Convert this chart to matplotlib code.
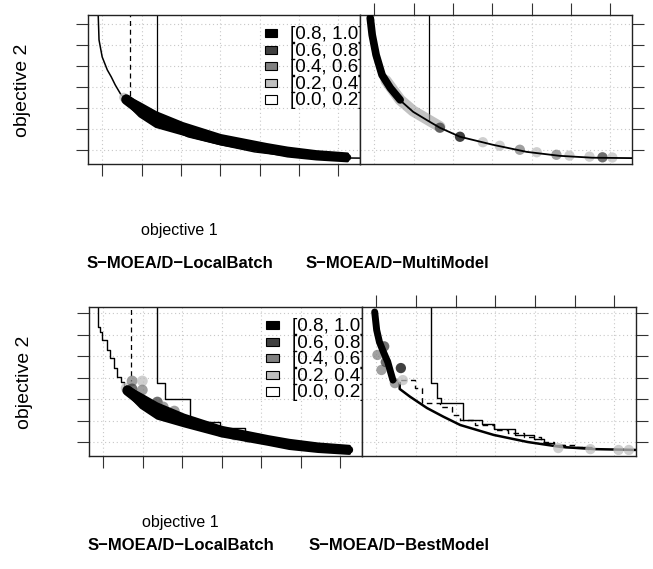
import matplotlib
matplotlib.use("Agg")
import matplotlib.pyplot as plt
from matplotlib.patches import Rectangle

plt.rcParams['font.family'] = ['Liberation Sans', 'DejaVu Sans']

W, H = 653, 569

# colour key
bin_labels = ['[0.8, 1.0]', '[0.6, 0.8]', '[0.4, 0.6]', '[0.2, 0.4]', '[0.0, 0.2]']
bin_colors = ['black', '#404040', '#808080', '#bfbfbf', 'white']

# unlabelled ticks
x_ticks = [0, 1, 2, 3, 4, 5, 6]
y_ticks = [0, 1, 2, 3, 4, 5, 6]

# reference front (thin line, top row)
front_x = [-0.11, -0.10, -0.08, 0.00, 0.13, 0.23, 0.33, 0.48, 0.66, 0.99, 1.37, 1.67, 2.18, 3.01, 3.87, 4.71, 5.54, 6.60]
front_y = [6.60, 6.40, 5.24, 4.43, 3.81, 3.48, 3.10, 2.62, 2.36, 1.81, 1.38, 1.05, 0.62, 0.24, -0.10, -0.29, -0.38, -0.40]

# dense cloud of S-MOEA/D-LocalBatch: upper and lower edge
lb_upper_x = [0.60, 0.96, 1.37, 2.05, 3.01, 4.18, 4.71, 5.44, 6.23]
lb_upper_y = [2.55, 2.19, 1.76, 1.24, 0.67, 0.24, 0.07, -0.10, -0.21]
lb_lower_x = [0.63, 0.96, 1.37, 2.05, 3.01, 4.18, 4.71, 5.44, 6.23]
lb_lower_y = [2.24, 1.62, 1.12, 0.76, 0.29, -0.10, -0.29, -0.43, -0.52]

# reference lines: dashed and solid verticals (x, lower end)
tl_dash = (0.70, 2.40)
tl_solid = (1.39, 1.60)
tr_solid = (1.39, 1.40)
bl_dash = (0.70, 2.85)

# S-MOEA/D-MultiModel
mm_band_x = [-0.10, -0.05, 0.05, 0.20, 0.41, 0.66]
mm_band_y = [6.29, 5.48, 4.52, 3.57, 2.95, 2.38]
mm_halo_x = [0.30, 0.66, 0.99, 1.37, 1.67]
mm_halo_y = [3.30, 2.38, 1.85, 1.43, 1.10]
mm_pts_x = [1.67, 2.18, 2.76, 3.19, 3.70, 4.13, 4.63, 4.96, 5.47, 5.80, 6.05]
mm_pts_y = [1.05, 0.62, 0.36, 0.19, 0.00, -0.12, -0.24, -0.28, -0.33, -0.36, -0.37]
mm_pts_c = ['#404040', 'black', '#bfbfbf', '#bfbfbf', '#808080', '#bfbfbf', '#808080', '#bfbfbf',
            '#bfbfbf', '#404040', '#bfbfbf']

# bottom-left staircases
bl_best_x = [-0.14, -0.14, -0.08, -0.03, 0.09, 0.17, 0.27, 0.35, 0.45, 0.53, 0.58]
bl_best_y = [6.60, 5.35, 5.12, 4.74, 4.28, 3.91, 3.44, 3.02, 2.79, 2.51, 2.42]
bl_worst_x = [1.37, 1.37, 1.57, 2.19, 2.95, 3.59, 3.95, 4.36, 4.87, 5.51, 6.27]
bl_worst_y = [6.60, 2.74, 2.00, 0.93, 0.65, 0.37, 0.19, 0.05, -0.09, -0.23, -0.42]
bl_pts_x = [0.58, 0.73, 0.99, 0.73, 0.99, 1.37, 1.52, 1.80, 2.31, 2.64, 3.00, 3.33, 3.66]
bl_pts_y = [2.51, 2.84, 2.84, 2.47, 2.42, 1.86, 1.63, 1.44, 0.88, 0.70, 0.47, 0.33, 0.23]
bl_pts_c = ['#bfbfbf', '#808080', '#bfbfbf', '#404040', '#808080', '#404040', '#808080',
            '#808080', '#404040', '#808080', '#404040', '#808080', '#404040']

# S-MOEA/D-BestModel
bm_best_x = [0.59, 0.59, 0.85, 1.28, 1.69, 2.12, 2.54, 2.96, 3.82, 4.66, 5.50, 6.60]
bm_best_y = [2.74, 2.47, 2.11, 1.58, 1.18, 0.79, 0.56, 0.33, 0.00, -0.23, -0.33, -0.37]
bm_med_x = [0.38, 0.97, 1.15, 1.61, 1.91, 2.12, 2.50, 2.97, 3.31, 3.73, 4.16, 4.49, 5.00, 5.51]
bm_med_y = [2.88, 2.50, 1.80, 1.61, 1.26, 1.02, 0.79, 0.56, 0.40, 0.25, 0.01, -0.14, -0.25, -0.34]
bm_worst_x = [1.38, 1.38, 1.54, 1.63, 2.19, 2.67, 2.98, 3.49, 3.97, 4.22, 4.49, 4.77, 5.34]
bm_worst_y = [6.60, 2.76, 2.03, 1.80, 1.02, 0.84, 0.60, 0.33, 0.13, -0.03, -0.15, -0.24, -0.33]
bm_band_x = [-0.04, 0.01, 0.08, 0.18, 0.29, 0.36, 0.42]
bm_band_y = [6.05, 5.21, 4.65, 4.19, 3.72, 3.26, 2.88]
bm_pts_x = [0.62, 0.13, 0.47, 0.67, 0.03, 0.24, 0.20, 4.59, 5.40, 6.11, 6.37]
bm_pts_y = [3.44, 3.35, 2.74, 2.88, 4.05, 3.72, 4.45, -0.28, -0.33, -0.37, -0.37]
bm_pts_c = ['black', '#808080', '#808080', '#bfbfbf', '#808080', '#404040', '#404040', '#bfbfbf',
            '#bfbfbf', '#bfbfbf', '#bfbfbf']

xlim = (-0.36, 6.55)
top_ylim = (-0.68, 6.43)
bot_ylim = (-0.65, 6.28)

fig = plt.figure(figsize=(W / 100, H / 100), dpi=100)


def make_axes(x0, y0, x1, y1, ylim, side):
    ax = fig.add_axes([x0 / W, 1 - y1 / H, (x1 - x0) / W, (y1 - y0) / H])
    ax.set_xlim(xlim)
    ax.set_ylim(ylim)
    ax.set_xticks(x_ticks)
    ax.set_yticks(y_ticks)
    ax.set_xticklabels([])
    ax.set_yticklabels([])
    ax.grid(True, color='#c8c8c8', linestyle=(0, (1, 2.5)), linewidth=0.8)
    ax.set_axisbelow(True)
    for s in ax.spines.values():
        s.set_linewidth(1.0)
        s.set_color('#222222')
    ax.tick_params(direction='out', length=8.8, width=0.8, color='#333333')
    if side == 'left':
        ax.tick_params(left=True, bottom=True, right=False, top=False)
    else:
        ax.tick_params(left=False, bottom=False, right=True, top=True)
    return ax


def add_key(ax):
    for i, (lab, col) in enumerate(zip(bin_labels, bin_colors)):
        yc = 0.877 - i * 0.111
        ax.add_patch(Rectangle((0.650, yc - 0.027), 0.046, 0.054, transform=ax.transAxes,
                               facecolor=col, edgecolor='black', linewidth=0.8, zorder=5))
        ax.text(0.742, yc - 0.008, lab, transform=ax.transAxes, fontsize=13.6,
                ha='left', va='center', zorder=5)


def band(ax, xs, ys, lw, color='black', alpha=1.0):
    ax.plot(xs, ys, color=color, linewidth=lw, solid_capstyle='round',
            solid_joinstyle='round', alpha=alpha, zorder=3)


def cloud(ax):
    xs = lb_upper_x + lb_lower_x[::-1]
    ys = lb_upper_y + lb_lower_y[::-1]
    ax.fill(xs, ys, facecolor='black', edgecolor='black', linewidth=2.5,
            joinstyle='round', zorder=3)
    # round off both ends of the cloud
    mid_x = [(a + b) / 2 for a, b in zip(lb_upper_x, lb_lower_x)]
    mid_y = [(a + b) / 2 for a, b in zip(lb_upper_y, lb_lower_y)]
    band(ax, mid_x[:2], mid_y[:2], 7.5)
    band(ax, mid_x[-2:], mid_y[-2:], 5.5)


def vline(ax, ref, top, ls):
    ax.plot([ref[0], ref[0]], [top, ref[1]], color='black', linewidth=0.9, linestyle=ls, zorder=2)


# top left: S-MOEA/D-LocalBatch
ax1 = make_axes(88, 15, 360, 164, top_ylim, 'left')
ax1.plot(front_x, front_y, color='black', linewidth=1.1, zorder=2)
vline(ax1, tl_dash, 7, (0, (4, 3)))
vline(ax1, tl_solid, 7, '-')
ax1.scatter([0.55], [2.50], s=45, color='#bfbfbf', alpha=0.8, edgecolors='none', zorder=2)
cloud(ax1)
add_key(ax1)

# top right: S-MOEA/D-MultiModel
ax2 = make_axes(360, 15, 632, 164, top_ylim, 'right')
vline(ax2, tr_solid, 7, '-')
band(ax2, mm_halo_x, mm_halo_y, 8, color='#9a9a9a', alpha=0.6)
ax2.scatter(mm_pts_x, mm_pts_y, s=55, c=mm_pts_c, alpha=0.75, edgecolors='none', zorder=3)
band(ax2, mm_band_x, mm_band_y, 5.5)
ax2.plot(front_x, front_y, color='black', linewidth=1.3, zorder=4)

# bottom left: S-MOEA/D-LocalBatch with attainment surfaces
ax3 = make_axes(89, 307, 362, 456, bot_ylim, 'left')
ax3.step(bl_best_x, bl_best_y, where='post', color='black', linewidth=1.0, zorder=2)
ax3.step(bl_worst_x, bl_worst_y, where='post', color='black', linewidth=1.0, zorder=2)
vline(ax3, bl_dash, 7, (0, (4, 3)))
ax3.scatter(bl_pts_x, bl_pts_y, s=60, c=bl_pts_c, alpha=0.75, edgecolors='none', zorder=3)
cloud(ax3)
add_key(ax3)

# bottom right: S-MOEA/D-BestModel
ax4 = make_axes(362, 307, 636, 456, bot_ylim, 'right')
ax4.plot(bm_best_x, bm_best_y, color='black', linewidth=1.8, zorder=2)
ax4.step(bm_med_x, bm_med_y, where='post', color='black', linewidth=1.0,
         linestyle=(0, (4, 3)), zorder=2)
ax4.step(bm_worst_x, bm_worst_y, where='post', color='black', linewidth=1.0, zorder=2)
ax4.scatter(bm_pts_x, bm_pts_y, s=55, c=bm_pts_c, alpha=0.75, edgecolors='none', zorder=3)
band(ax4, bm_band_x, bm_band_y, 5)


def ftext(x, y, s, **kw):
    fig.text(x / W, 1 - y / H, s, ha='center', va='center', **kw)


ftext(23, 90, 'objective 2', fontsize=14, rotation=90)
ftext(25, 382, 'objective 2', fontsize=14, rotation=90)
ftext(179, 230, 'objective 1', fontsize=11.5)
ftext(180, 523, 'objective 1', fontsize=11.5)
ftext(180, 263, 'S\u2212MOEA/D\u2212LocalBatch', fontsize=12, fontweight='bold')
ftext(397, 263, 'S\u2212MOEA/D\u2212MultiModel', fontsize=12, fontweight='bold')
ftext(181, 546, 'S\u2212MOEA/D\u2212LocalBatch', fontsize=12, fontweight='bold')
ftext(399, 546, 'S\u2212MOEA/D\u2212BestModel', fontsize=12, fontweight='bold')

fig.savefig('out.png', dpi=100)
